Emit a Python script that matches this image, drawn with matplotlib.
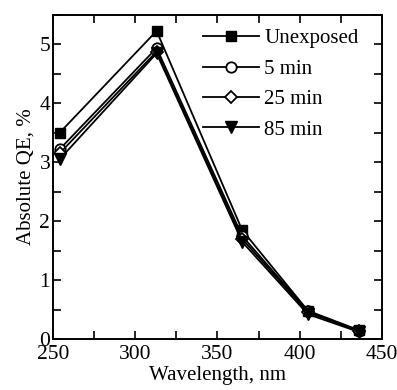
import matplotlib
matplotlib.use("Agg")
import matplotlib.pyplot as plt
from matplotlib.ticker import MultipleLocator

plt.rcParams['font.family'] = ['Liberation Serif', 'DejaVu Serif']
plt.rcParams['mathtext.fontset'] = 'stix'

wavelength = [254, 313, 365, 405, 436]
unexposed = [3.50, 5.23, 1.85, 0.48, 0.15]
min5 = [3.22, 4.94, 1.75, 0.47, 0.14]
min25 = [3.15, 4.88, 1.70, 0.45, 0.13]
min85 = [3.05, 4.85, 1.65, 0.42, 0.12]
labels = ["Unexposed", "5 min", "25 min", "85 min"]

fig = plt.figure(figsize=(3.97, 3.90), dpi=100)
ax = fig.add_axes([0.1335, 0.1308, 0.8285, 0.8307])

ms = 7.5
ax.plot(wavelength, unexposed, '-', color='black', lw=1.3, marker='s', ms=ms,
        mfc='black', mec='black', label=labels[0])
ax.plot(wavelength, min5, '-', color='black', lw=1.3, marker='o', ms=ms,
        mfc='white', mec='black', mew=1.3, label=labels[1])
ax.plot(wavelength, min25, '-', color='black', lw=1.3, marker='D', ms=ms*0.85,
        mfc='white', mec='black', mew=1.3, label=labels[2])
ax.plot(wavelength, min85, '-', color='black', lw=1.3, marker='v', ms=ms*1.1,
        mfc='black', mec='black', label=labels[3])

ax.set_xlim(250, 450)
ax.set_ylim(0, 5.5)
ax.xaxis.set_major_locator(MultipleLocator(50))
ax.xaxis.set_minor_locator(MultipleLocator(25))
ax.yaxis.set_major_locator(MultipleLocator(1))
ax.yaxis.set_minor_locator(MultipleLocator(0.5))
ax.tick_params(which='both', direction='in', top=True, right=True, width=1.2,
               labelsize=15.5)
ax.tick_params(axis='x', pad=4)
ax.tick_params(axis='y', pad=2)
ax.tick_params(which='major', length=6)
ax.tick_params(which='minor', length=6)
for s in ax.spines.values():
    s.set_linewidth(1.4)

ax.set_xlabel("Wavelength, nm", fontsize=15, labelpad=2)
ax.set_ylabel("Absolute QE, %", fontsize=15, labelpad=3)

leg = ax.legend(loc='upper left', bbox_to_anchor=(0.443, 0.97), frameon=False,
                fontsize=15, handlelength=2.7, labelspacing=0.52, handletextpad=0.25,
                borderaxespad=0.0, borderpad=0.2)

fig.savefig("out.png", dpi=100)
